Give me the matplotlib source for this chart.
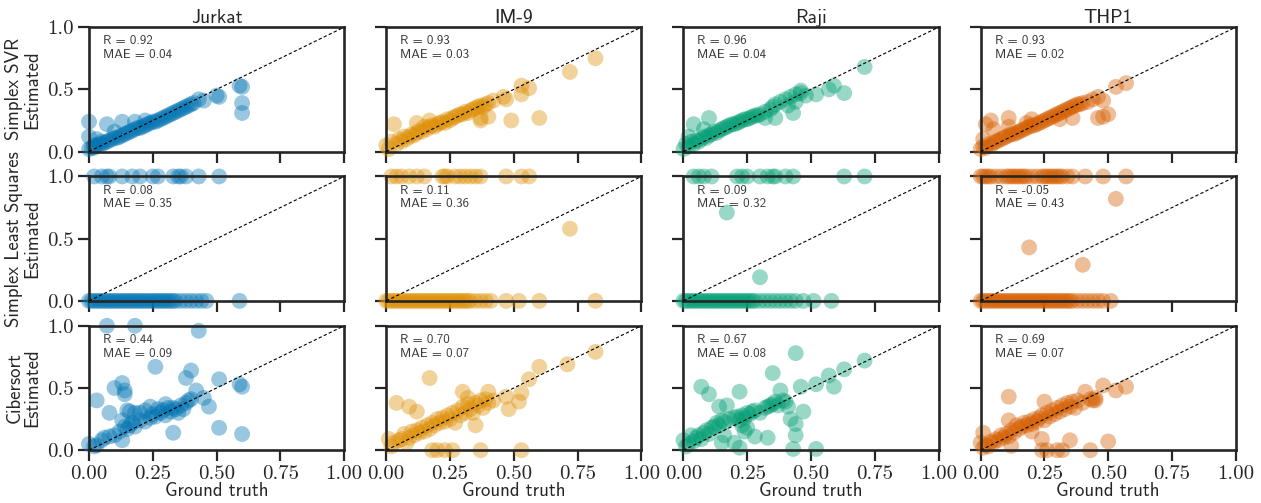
import matplotlib
matplotlib.use('Agg')
import matplotlib.pyplot as plt
import numpy as np

plt.rcParams['font.family'] = ['cmss10', 'DejaVu Sans']
plt.rcParams['axes.unicode_minus'] = False
plt.rcParams['axes.formatter.use_mathtext'] = True

cell_lines = ['Jurkat', 'IM-9', 'Raji', 'THP1']
methods = ['Simplex SVR', 'Simplex Least Squares', 'Cibersort']
colors = ['#0173b2', '#de8f05', '#029e73', '#d55e00']

r_svr = ['0.92', '0.93', '0.96', '0.93']
mae_svr = ['0.04', '0.03', '0.04', '0.02']
r_ls = ['0.08', '0.11', '0.09', '-0.05']
mae_ls = ['0.35', '0.36', '0.32', '0.43']
r_cib = ['0.44', '0.70', '0.67', '0.69']
mae_cib = ['0.09', '0.07', '0.08', '0.07']

# ---- Jurkat ----
jurkat_svr_gt = [0.00, 0.01, 0.02, 0.02, 0.03, 0.04, 0.05, 0.05, 0.06, 0.07, 0.08, 0.09, 0.10, 0.11, 0.12,
                 0.13, 0.14, 0.15, 0.16, 0.17, 0.18, 0.19, 0.20, 0.21, 0.22, 0.23, 0.24, 0.25, 0.26, 0.27,
                 0.28, 0.29, 0.30, 0.31, 0.32, 0.33, 0.34, 0.35, 0.36, 0.37, 0.38, 0.39, 0.40, 0.41, 0.43,
                 0.45, 0.50, 0.51, 0.59, 0.60, 0.60, 0.60, 0.00, 0.00, 0.07, 0.13, 0.18, 0.03, 0.10, 0.22]
jurkat_svr_est = [0.02, 0.03, 0.03, 0.05, 0.05, 0.06, 0.06, 0.08, 0.07, 0.08, 0.09, 0.10, 0.11, 0.11, 0.12,
                  0.13, 0.14, 0.15, 0.16, 0.17, 0.18, 0.19, 0.19, 0.20, 0.21, 0.22, 0.23, 0.24, 0.24, 0.25,
                  0.26, 0.27, 0.28, 0.29, 0.30, 0.31, 0.32, 0.33, 0.34, 0.35, 0.36, 0.37, 0.38, 0.39, 0.42,
                  0.41, 0.45, 0.44, 0.53, 0.52, 0.39, 0.31, 0.24, 0.12, 0.22, 0.24, 0.24, 0.10, 0.16, 0.25]

# least squares: ground truth of points estimated at 1.0 (top), at 0.0 (bottom), and the few in between
jurkat_ls_top = [0.02, 0.05, 0.07, 0.08, 0.13, 0.17, 0.20, 0.25, 0.27, 0.33, 0.35, 0.36, 0.38, 0.43, 0.51]
jurkat_ls_bottom = [0.00, 0.01, 0.02, 0.03, 0.04, 0.05, 0.06, 0.07, 0.08, 0.09, 0.10, 0.11, 0.12, 0.13,
                    0.14, 0.15, 0.16, 0.17, 0.18, 0.19, 0.20, 0.21, 0.22, 0.23, 0.24, 0.25, 0.26, 0.27,
                    0.28, 0.29, 0.30, 0.31, 0.32, 0.33, 0.34, 0.36, 0.38, 0.40, 0.42, 0.44, 0.46, 0.59]
jurkat_ls_mid_gt = []
jurkat_ls_mid_est = []

jurkat_cib_gt = [0.07, 0.18, 0.43, 0.26, 0.40, 0.38, 0.51, 0.59, 0.60, 0.10, 0.13, 0.14, 0.14, 0.03, 0.08,
                 0.51, 0.60, 0.33, 0.13, 0.42, 0.47, 0.45,
                 0.00, 0.02, 0.03, 0.05, 0.06, 0.08, 0.10, 0.12, 0.14, 0.15, 0.16, 0.17, 0.18, 0.18,
                 0.20, 0.20, 0.22, 0.22, 0.24, 0.24, 0.25, 0.26, 0.27, 0.28, 0.29, 0.30, 0.30, 0.31,
                 0.32, 0.33, 0.34, 0.35, 0.36, 0.37, 0.38, 0.39, 0.40, 0.15, 0.13, 0.16]
jurkat_cib_est = [1.00, 1.00, 0.96, 0.67, 0.64, 0.58, 0.57, 0.53, 0.51, 0.50, 0.54, 0.48, 0.45, 0.40, 0.30,
                  0.18, 0.13, 0.14, 0.08, 0.48, 0.35, 0.42,
                  0.05, 0.03, 0.04, 0.08, 0.10, 0.11, 0.12, 0.15, 0.19, 0.17, 0.20, 0.22, 0.19, 0.30,
                  0.24, 0.30, 0.23, 0.32, 0.26, 0.35, 0.29, 0.27, 0.33, 0.30, 0.32, 0.28, 0.37, 0.34,
                  0.31, 0.34, 0.33, 0.30, 0.36, 0.33, 0.38, 0.40, 0.41, 0.32, 0.24, 0.31]

# ---- IM-9 ----
im9_svr_gt = [0.82, 0.72, 0.56, 0.53, 0.53, 0.47, 0.46, 0.60, 0.49, 0.40, 0.37, 0.37, 0.03, 0.42,
              0.00, 0.01, 0.02, 0.04, 0.05, 0.06, 0.07, 0.08, 0.09, 0.10, 0.11, 0.12, 0.13, 0.14,
              0.15, 0.16, 0.17, 0.18, 0.19, 0.20, 0.21, 0.22, 0.23, 0.24, 0.25, 0.26, 0.27, 0.28,
              0.29, 0.30, 0.31, 0.32, 0.33, 0.34, 0.35, 0.36, 0.37, 0.38, 0.39, 0.40, 0.12, 0.17]
im9_svr_est = [0.75, 0.64, 0.51, 0.53, 0.46, 0.42, 0.44, 0.27, 0.25, 0.28, 0.27, 0.25, 0.22, 0.41,
               0.05, 0.02, 0.08, 0.06, 0.10, 0.08, 0.12, 0.10, 0.12, 0.14, 0.13, 0.15, 0.17, 0.16,
               0.20, 0.18, 0.20, 0.21, 0.20, 0.22, 0.23, 0.24, 0.23, 0.26, 0.25, 0.27, 0.28, 0.29,
               0.30, 0.30, 0.32, 0.31, 0.33, 0.34, 0.35, 0.36, 0.37, 0.36, 0.38, 0.39, 0.23, 0.25]

im9_ls_top = [0.02, 0.04, 0.06, 0.09, 0.12, 0.15, 0.22, 0.23, 0.24, 0.27, 0.29, 0.31, 0.33, 0.35, 0.37,
              0.47, 0.53, 0.56]
im9_ls_bottom = [0.00, 0.01, 0.02, 0.03, 0.04, 0.05, 0.06, 0.07, 0.08, 0.09, 0.10, 0.11, 0.12, 0.13,
                 0.14, 0.15, 0.16, 0.17, 0.18, 0.19, 0.20, 0.21, 0.22, 0.23, 0.24, 0.25, 0.26, 0.27,
                 0.28, 0.29, 0.30, 0.31, 0.32, 0.33, 0.35, 0.37, 0.39, 0.41, 0.47, 0.52, 0.60, 0.82]
im9_ls_mid_gt = [0.72]
im9_ls_mid_est = [0.58]

im9_cib_gt = [0.82, 0.71, 0.60, 0.56, 0.17, 0.30, 0.40, 0.53, 0.47, 0.52, 0.48, 0.04, 0.09, 0.12, 0.32,
              0.35, 0.01, 0.18, 0.20, 0.23, 0.26, 0.37, 0.53,
              0.05, 0.07, 0.09, 0.10, 0.11, 0.12, 0.13, 0.14, 0.15, 0.16, 0.17, 0.18, 0.19, 0.20,
              0.21, 0.22, 0.23, 0.24, 0.25, 0.26, 0.27, 0.28, 0.29, 0.30, 0.31, 0.32, 0.33, 0.34,
              0.35, 0.36, 0.37, 0.38, 0.39, 0.40, 0.42, 0.08, 0.02, 0.03, 0.06]
im9_cib_est = [0.79, 0.69, 0.67, 0.57, 0.58, 0.47, 0.47, 0.46, 0.43, 0.39, 0.33, 0.38, 0.35, 0.31, 0.42,
               0.20, 0.09, 0.00, 0.00, 0.00, 0.00, 0.00, 0.00,
               0.08, 0.13, 0.10, 0.15, 0.12, 0.16, 0.14, 0.18, 0.15, 0.20, 0.17, 0.22, 0.20, 0.25,
               0.22, 0.26, 0.23, 0.28, 0.25, 0.30, 0.22, 0.32, 0.28, 0.35, 0.30, 0.37, 0.33, 0.30,
               0.38, 0.36, 0.40, 0.34, 0.41, 0.38, 0.40, 0.06, 0.03, 0.06, 0.09]

# ---- Raji ----
raji_svr_gt = [0.71, 0.59, 0.63, 0.57, 0.52, 0.48, 0.43, 0.44, 0.41, 0.46, 0.36, 0.32, 0.04, 0.10,
               0.00, 0.01, 0.02, 0.03, 0.04, 0.05, 0.06, 0.07, 0.08, 0.09, 0.10, 0.11, 0.12, 0.13,
               0.14, 0.15, 0.16, 0.17, 0.18, 0.19, 0.20, 0.21, 0.22, 0.23, 0.24, 0.25, 0.26, 0.27,
               0.28, 0.29, 0.30, 0.32, 0.34, 0.35, 0.36, 0.38, 0.40, 0.42, 0.44, 0.46, 0.08, 0.02]
raji_svr_est = [0.68, 0.53, 0.47, 0.50, 0.46, 0.45, 0.31, 0.40, 0.37, 0.49, 0.27, 0.27, 0.22, 0.27,
                0.02, 0.06, 0.04, 0.08, 0.06, 0.09, 0.08, 0.10, 0.12, 0.11, 0.13, 0.14, 0.16, 0.15,
                0.17, 0.18, 0.19, 0.20, 0.21, 0.22, 0.22, 0.23, 0.24, 0.25, 0.26, 0.26, 0.27, 0.28,
                0.29, 0.29, 0.30, 0.32, 0.34, 0.36, 0.38, 0.40, 0.42, 0.44, 0.46, 0.47, 0.18, 0.12]

raji_ls_top = [0.04, 0.06, 0.08, 0.11, 0.21, 0.23, 0.25, 0.30, 0.33, 0.35, 0.36, 0.40, 0.43, 0.63, 0.71]
raji_ls_bottom = [0.00, 0.01, 0.02, 0.03, 0.04, 0.05, 0.06, 0.07, 0.08, 0.09, 0.10, 0.11, 0.12, 0.13,
                  0.14, 0.15, 0.16, 0.17, 0.18, 0.19, 0.20, 0.21, 0.22, 0.23, 0.24, 0.25, 0.26, 0.27,
                  0.28, 0.30, 0.32, 0.34, 0.36, 0.38, 0.40, 0.42, 0.44, 0.47, 0.51, 0.58]
raji_ls_mid_gt = [0.17, 0.30]
raji_ls_mid_est = [0.71, 0.19]

raji_cib_gt = [0.44, 0.71, 0.63, 0.57, 0.35, 0.07, 0.10, 0.22, 0.38, 0.46, 0.52, 0.59, 0.47, 0.42,
               0.44, 0.44, 0.33, 0.15, 0.20, 0.22, 0.43, 0.52, 0.16, 0.28, 0.25, 0.41, 0.14, 0.17,
               0.00, 0.01, 0.02, 0.03, 0.04, 0.05, 0.06, 0.07, 0.08, 0.09, 0.10, 0.11, 0.12, 0.13,
               0.14, 0.15, 0.16, 0.18, 0.20, 0.21, 0.22, 0.23, 0.24, 0.25, 0.26, 0.27, 0.28, 0.30,
               0.32, 0.33, 0.34, 0.35, 0.36, 0.37, 0.39, 0.40, 0.23, 0.24]
raji_cib_est = [0.78, 0.72, 0.65, 0.60, 0.62, 0.51, 0.45, 0.47, 0.48, 0.51, 0.53, 0.51, 0.31, 0.25,
                0.21, 0.12, 0.10, 0.06, 0.06, 0.02, 0.01, 0.01, 0.12, 0.11, 0.18, 0.35, 0.35, 0.36,
                0.08, 0.03, 0.05, 0.12, 0.07, 0.10, 0.12, 0.09, 0.14, 0.16, 0.13, 0.18, 0.19, 0.22,
                0.20, 0.24, 0.23, 0.25, 0.26, 0.27, 0.24, 0.28, 0.26, 0.30, 0.29, 0.31, 0.32, 0.30,
                0.34, 0.35, 0.36, 0.37, 0.39, 0.36, 0.40, 0.39, 0.20, 0.15]

# ---- THP1 ----
thp1_svr_gt = [0.57, 0.53, 0.46, 0.48, 0.50, 0.46, 0.48, 0.36, 0.31, 0.11, 0.04, 0.02, 0.05, 0.11,
               0.18, 0.20, 0.01,
               0.00, 0.01, 0.02, 0.03, 0.04, 0.05, 0.06, 0.07, 0.08, 0.09, 0.10, 0.11, 0.12, 0.13,
               0.14, 0.15, 0.16, 0.17, 0.18, 0.19, 0.20, 0.21, 0.22, 0.23, 0.24, 0.25, 0.26, 0.27,
               0.28, 0.29, 0.30, 0.31, 0.32, 0.33, 0.34, 0.35, 0.36, 0.37, 0.38, 0.39, 0.40, 0.42, 0.44]
thp1_svr_est = [0.55, 0.52, 0.44, 0.41, 0.30, 0.27, 0.28, 0.27, 0.26, 0.27, 0.25, 0.22, 0.18, 0.20,
                0.23, 0.26, 0.10,
                0.02, 0.04, 0.03, 0.06, 0.05, 0.07, 0.08, 0.09, 0.10, 0.11, 0.12, 0.13, 0.14, 0.14,
                0.15, 0.16, 0.17, 0.18, 0.19, 0.20, 0.21, 0.21, 0.22, 0.23, 0.24, 0.25, 0.26, 0.27,
                0.28, 0.29, 0.30, 0.31, 0.32, 0.33, 0.34, 0.35, 0.36, 0.37, 0.38, 0.38, 0.39, 0.40, 0.42]

thp1_ls_top = [0.00, 0.01, 0.02, 0.03, 0.04, 0.06, 0.08, 0.10, 0.11, 0.12, 0.13, 0.14, 0.15, 0.16,
               0.17, 0.18, 0.20, 0.22, 0.24, 0.25, 0.26, 0.27, 0.28, 0.29, 0.30, 0.31, 0.32, 0.34,
               0.36, 0.41, 0.48, 0.57]
thp1_ls_bottom = [0.00, 0.01, 0.02, 0.03, 0.04, 0.05, 0.06, 0.07, 0.08, 0.09, 0.10, 0.11, 0.12, 0.13,
                  0.14, 0.15, 0.16, 0.17, 0.18, 0.19, 0.20, 0.21, 0.22, 0.23, 0.24, 0.25, 0.26, 0.27,
                  0.28, 0.29, 0.30, 0.31, 0.32, 0.33, 0.34, 0.35, 0.36, 0.38, 0.40, 0.42, 0.44, 0.46,
                  0.48, 0.51]
thp1_ls_mid_gt = [0.53, 0.19, 0.40]
thp1_ls_mid_est = [0.82, 0.43, 0.29]

thp1_cib_gt = [0.57, 0.53, 0.48, 0.41, 0.45, 0.43, 0.11, 0.25, 0.11, 0.35, 0.50, 0.24, 0.12,
               0.24, 0.26, 0.30, 0.32, 0.43, 0.01, 0.00,
               0.01, 0.02, 0.03, 0.04, 0.05, 0.06, 0.07, 0.08, 0.09, 0.10, 0.11, 0.12, 0.13, 0.14,
               0.15, 0.16, 0.17, 0.18, 0.19, 0.20, 0.21, 0.22, 0.23, 0.24, 0.25, 0.26, 0.27, 0.28,
               0.29, 0.30, 0.31, 0.32, 0.33, 0.34, 0.35, 0.36, 0.37, 0.38, 0.40, 0.44, 0.45, 0.20]
thp1_cib_est = [0.51, 0.48, 0.52, 0.47, 0.42, 0.41, 0.43, 0.39, 0.24, 0.08, 0.07, 0.09, 0.035,
                0.00, 0.00, 0.00, 0.00, 0.00, 0.14, 0.06,
                0.02, 0.04, 0.03, 0.07, 0.06, 0.09, 0.08, 0.12, 0.10, 0.13, 0.11, 0.16, 0.14, 0.20,
                0.17, 0.19, 0.22, 0.20, 0.23, 0.21, 0.25, 0.23, 0.26, 0.28, 0.24, 0.30, 0.27, 0.32,
                0.29, 0.34, 0.31, 0.36, 0.33, 0.38, 0.35, 0.39, 0.34, 0.40, 0.38, 0.40, 0.40, 0.15]


def ls_points(top, bottom, mid_gt, mid_est):
    gt = list(top) + list(bottom) + list(mid_gt)
    est = [1.0] * len(top) + [0.0] * len(bottom) + list(mid_est)
    return gt, est


panels = [
    [(jurkat_svr_gt, jurkat_svr_est), (im9_svr_gt, im9_svr_est),
     (raji_svr_gt, raji_svr_est), (thp1_svr_gt, thp1_svr_est)],
    [ls_points(jurkat_ls_top, jurkat_ls_bottom, jurkat_ls_mid_gt, jurkat_ls_mid_est),
     ls_points(im9_ls_top, im9_ls_bottom, im9_ls_mid_gt, im9_ls_mid_est),
     ls_points(raji_ls_top, raji_ls_bottom, raji_ls_mid_gt, raji_ls_mid_est),
     ls_points(thp1_ls_top, thp1_ls_bottom, thp1_ls_mid_gt, thp1_ls_mid_est)],
    [(jurkat_cib_gt, jurkat_cib_est), (im9_cib_gt, im9_cib_est),
     (raji_cib_gt, raji_cib_est), (thp1_cib_gt, thp1_cib_est)],
]
r_rows = [r_svr, r_ls, r_cib]
mae_rows = [mae_svr, mae_ls, mae_cib]

fig, axes = plt.subplots(3, 4, figsize=(12.61, 5.03), dpi=100, sharex=True, sharey=True)
fig.subplots_adjust(left=0.0706, right=0.980, top=0.946, bottom=0.105, wspace=0.165, hspace=0.2)

dark = '#262626'
for i in range(3):
    for j in range(4):
        ax = axes[i, j]
        gt, est = panels[i][j]
        ax.scatter(gt, est, s=130, color=colors[j], alpha=0.4, edgecolors='none',
                   clip_on=False, zorder=2)
        ax.plot([0, 1], [0, 1], color='black', linestyle='--', linewidth=0.8, dashes=(3, 2), zorder=3)
        ax.set_xlim(0, 1)
        ax.set_ylim(0, 1)
        ax.text(0.055, 0.935, 'R = ' + r_rows[i][j] + '\nMAE = ' + mae_rows[i][j],
                transform=ax.transAxes, ha='left', va='top', fontsize=9.3, color='#3a3a3a',
                linespacing=1.2, zorder=4)
        for sp in ax.spines.values():
            sp.set_linewidth(1.9)
            sp.set_color(dark)
        ax.tick_params(direction='out', length=8, width=1.6, color=dark, labelcolor=dark,
                       labelsize=15, pad=3)
        ax.set_xticks([0, 0.25, 0.5, 0.75, 1.0])
        ax.set_yticks([0, 0.5, 1.0])
        if i == 2:
            ax.set_xticklabels(['0.00', '0.25', '0.50', '0.75', '1.00'], fontfamily='cmr10')
            ax.set_xlabel('Ground truth', fontsize=13.5, color=dark, labelpad=-1)
        if j == 0:
            ax.set_yticklabels(['0.0', '0.5', '1.0'], fontfamily='cmr10')
            ax.set_ylabel(methods[i] + '\nEstimated', fontsize=13.5, color=dark, labelpad=4,
                          linespacing=1.0)
        if i == 0:
            ax.set_title(cell_lines[j], fontsize=14, color=dark, pad=3)

fig.savefig('out.png', dpi=100)
